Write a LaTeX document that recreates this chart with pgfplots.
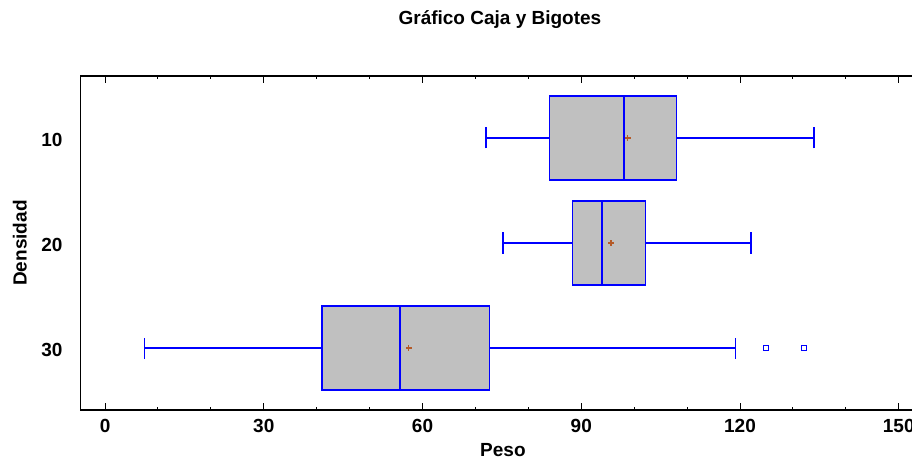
\documentclass[border=0pt]{standalone}
\usepackage{fontspec}
\setmainfont{Liberation Sans}
\usepackage{pgfplots}
\pgfplotsset{compat=1.18}
\usepgfplotslibrary{statistics}
\definecolor{boxblue}{RGB}{0,0,255}
\definecolor{boxgray}{RGB}{192,192,192}
\definecolor{meancol}{RGB}{180,90,40}
\newcommand{\lblfont}{\bfseries\fontsize{19}{22}\selectfont}
\begin{document}
\begin{tikzpicture}
\begin{axis}[
  scale only axis, width=844.5pt, height=334pt,
  at={(0,0)}, anchor=south west,
  xmin=-4.6, xmax=155, ymin=0.41, ymax=3.59,
  xtick={0,30,...,150}, minor x tick num=2,
  ytick={1,2,3}, yticklabels={30,20,10},
  ytick style={draw=none},
  tick align=inside,
  xtick pos=both,
  major tick length=7pt, minor tick length=3.5pt,
  x tick style={black, line width=1pt},
  axis line style={black, line width=1.3pt},
  /pgf/number format/assume math mode=true,
  ticklabel style={font=\lblfont},
  xticklabel style={anchor=base, inner sep=0pt, yshift=-22.7pt},
  yticklabel style={anchor=east, inner sep=0pt, xshift=-18pt, yshift=-1.5pt},
  title={Gráfico Caja y Bigotes},
  title style={at={(0.5,1)}, anchor=base, inner sep=0pt, yshift=45pt, xshift=-3pt, font=\lblfont},
  xlabel={Peso},
  xlabel style={at={(axis description cs:0.5,0)}, anchor=base, inner sep=0pt, yshift=-46pt, font=\lblfont},
  ylabel={Densidad},
  ylabel style={at={(axis description cs:-0.0639,0.5)}, anchor=base, inner sep=0pt, font=\lblfont},
  boxplot/every box/.style={draw=boxblue, fill=boxgray, line width=1.3pt},
  boxplot/every whisker/.style={draw=boxblue, line width=1.3pt},
  boxplot/every median/.style={draw=boxblue, line width=2pt},
]
% Densidad 10
\addplot[boxplot prepared={draw direction=x, draw position=3,
   lower whisker=72.0, lower quartile=84.0, median=98.1,
   upper quartile=108.05, upper whisker=134.0,
   box extend=0.8, whisker extend=0.2}, draw=boxblue] coordinates {};
% Densidad 20
\addplot[boxplot prepared={draw direction=x, draw position=2,
   lower whisker=75.2, lower quartile=88.4, median=93.9,
   upper quartile=102.2, upper whisker=122.1,
   box extend=0.8, whisker extend=0.2}, draw=boxblue] coordinates {};
% Densidad 30
\addplot[boxplot prepared={draw direction=x, draw position=1,
   lower whisker=7.5, lower quartile=41.0, median=55.75,
   upper quartile=72.7, upper whisker=119.1,
   box extend=0.8, whisker extend=0.2}, draw=boxblue] coordinates {};
% medias
\addplot[only marks, mark=+, mark size=2.8pt, mark options={draw=meancol, line width=1.2pt}]
  coordinates {(98.8,3) (95.6,2) (57.4,1)};
% valores atipicos
\addplot[only marks, mark=square, mark size=2.3pt, mark options={draw=boxblue, line width=1.1pt}]
  coordinates {(124.9,1) (132.05,1)};
\end{axis}
\pgfresetboundingbox
\useasboundingbox (-80.7pt,-50pt) rectangle (831.3pt,410pt);
\end{tikzpicture}
\end{document}
